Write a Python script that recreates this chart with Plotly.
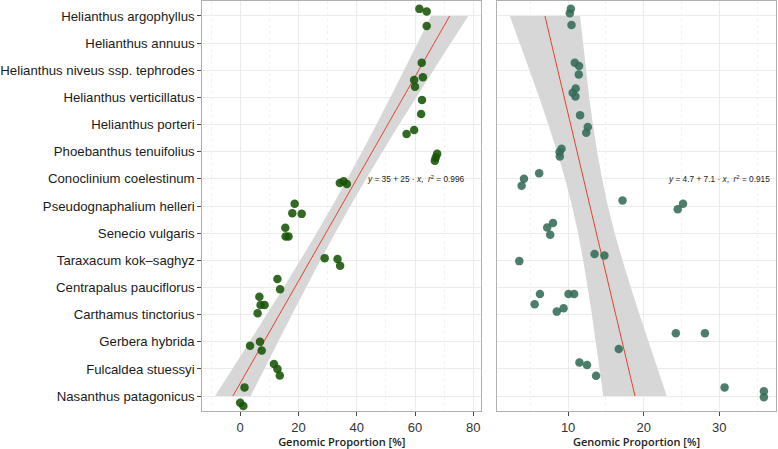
import plotly.graph_objects as go

categories = ["Helianthus argophyllus", "Helianthus annuus", "Helianthus niveus ssp. tephrodes",
              "Helianthus verticillatus", "Helianthus porteri", "Phoebanthus tenuifolius",
              "Conoclinium coelestinum", "Pseudognaphalium helleri", "Senecio vulgaris",
              "Taraxacum kok\u2013saghyz", "Centrapalus pauciflorus", "Carthamus tinctorius",
              "Gerbera hybrida", "Fulcaldea stuessyi", "Nasanthus patagonicus"]

# left panel points: species, genomic proportion, vertical jitter
left_species = ["Helianthus argophyllus"] * 3 + ["Helianthus niveus ssp. tephrodes"] * 3 + \
    ["Helianthus verticillatus"] * 2 + ["Helianthus porteri"] * 3 + ["Phoebanthus tenuifolius"] * 3 + \
    ["Conoclinium coelestinum"] * 3 + ["Pseudognaphalium helleri"] * 3 + ["Senecio vulgaris"] * 3 + \
    ["Taraxacum kok\u2013saghyz"] * 3 + ["Centrapalus pauciflorus"] * 3 + ["Carthamus tinctorius"] * 3 + \
    ["Gerbera hybrida"] * 3 + ["Fulcaldea stuessyi"] * 3 + ["Nasanthus patagonicus"] * 3
left_values = [61.5, 64.0, 64.0, 62.3, 62.7, 59.7, 60.0, 62.4, 62.1, 59.7, 57.1,
               67.6, 67.1, 66.8, 34.2, 35.5, 36.6, 18.7, 17.9, 21.1, 15.5, 15.6, 16.6,
               29.0, 33.4, 34.3, 12.8, 13.7, 6.6, 7.0, 8.4, 6.0, 3.4, 6.8, 7.4,
               11.6, 12.8, 13.6, 1.5, 0.0, 1.1]
left_jitter = [0.26, 0.16, -0.37, 0.28, -0.26, -0.36, 0.39, -0.10, 0.39, -0.20, -0.35,
               -0.08, -0.21, -0.33, -0.15, -0.09, -0.19, 0.08, -0.27, -0.29, 0.20, -0.12, -0.12,
               0.08, 0.05, -0.20, 0.31, -0.07, -0.34, 0.35, 0.35, 0.05, -0.15, 0.0, -0.32,
               0.18, 0.0, -0.24, 0.32, -0.25, -0.37]

right_species = ["Helianthus argophyllus"] * 3 + ["Helianthus niveus ssp. tephrodes"] * 3 + \
    ["Helianthus verticillatus"] * 3 + ["Helianthus porteri"] * 3 + ["Phoebanthus tenuifolius"] * 3 + \
    ["Conoclinium coelestinum"] * 3 + ["Pseudognaphalium helleri"] * 3 + ["Senecio vulgaris"] * 3 + \
    ["Taraxacum kok\u2013saghyz"] * 3 + ["Centrapalus pauciflorus"] * 3 + ["Carthamus tinctorius"] * 3 + \
    ["Gerbera hybrida"] * 3 + ["Fulcaldea stuessyi"] * 3 + ["Nasanthus patagonicus"] * 3
right_values = [10.36, 10.22, 10.45, 10.88, 11.45, 11.41, 11.0, 10.6, 10.97, 11.58, 12.6, 12.4,
                9.13, 8.87, 8.9, 4.16, 3.85, 6.17, 17.2, 25.2, 24.5, 8.0, 7.23, 7.63,
                3.54, 13.5, 14.8, 6.27, 10.05, 10.8, 5.57, 9.4, 8.5, 24.25, 28.1, 16.7,
                11.5, 12.5, 13.7, 30.7, 35.9, 35.9]
right_jitter = [0.26, 0.10, -0.33, 0.28, 0.16, -0.16, 0.33, 0.17, 0.03, 0.34, -0.09, -0.30,
                0.11, -0.01, -0.18, 0.0, -0.25, 0.21, 0.20, 0.08, -0.12, 0.37, 0.21, -0.06,
                -0.03, 0.23, 0.18, -0.24, -0.24, -0.24, 0.38, 0.23, 0.11, 0.31, 0.31, -0.27,
                0.24, 0.14, -0.25, 0.32, 0.18, -0.04]

# fitted lines (value at bottom category, value at top category) and band half-widths (bottom -> top)
left_fit = [-2.5, 71.9]
left_band = [6.1, 5.5, 4.9, 4.35, 3.85, 3.45, 3.2, 3.1, 3.2, 3.5, 3.9, 4.45, 5.05, 5.7, 6.4]
right_fit = [18.85, 6.93]
right_band = [4.2, 3.85, 3.5, 3.15, 2.85, 2.6, 2.42, 2.37, 2.45, 2.65, 2.95, 3.3, 3.75, 4.2, 4.65]

left_label = "<i>y</i> = 35 + 25 \u00b7 <i>x</i>,  <i>r</i><sup>2</sup> = 0.996"
right_label = "<i>y</i> = 4.7 + 7.1 \u00b7 <i>x</i>,  <i>r</i><sup>2</sup> = 0.915"

n = len(categories)
pos = {c: n - 1 - i for i, c in enumerate(categories)}  # top category highest


def build(fit, band, xa, ya):
    idx = list(range(n))
    line = [fit[0] + (fit[1] - fit[0]) * i / (n - 1) for i in idx]
    lo = [l - b for l, b in zip(line, band)]
    hi = [l + b for l, b in zip(line, band)]
    band_tr = go.Scatter(x=lo + hi[::-1], y=idx + idx[::-1], fill="toself", mode="none",
                         fillcolor="rgb(215,215,215)", xaxis=xa, yaxis=ya,
                         showlegend=False, hoverinfo="skip")
    line_tr = go.Scatter(x=line, y=idx, mode="lines", line=dict(color="#e8432a", width=1),
                         xaxis=xa, yaxis=ya, showlegend=False)
    return band_tr, line_tr


fig = go.Figure()
b, l = build(left_fit, left_band, "x", "y")
fig.add_trace(b)
fig.add_trace(l)
fig.add_trace(go.Scatter(x=left_values, y=[pos[s] + j for s, j in zip(left_species, left_jitter)],
                         mode="markers", marker=dict(size=8.5, color="rgb(22,84,4)", opacity=0.88),
                         xaxis="x", yaxis="y", showlegend=False))
b, l = build(right_fit, right_band, "x2", "y2")
fig.add_trace(b)
fig.add_trace(l)
fig.add_trace(go.Scatter(x=right_values, y=[pos[s] + j for s, j in zip(right_species, right_jitter)],
                         mode="markers", marker=dict(size=8.5, color="rgb(50,108,86)", opacity=0.88),
                         xaxis="x2", yaxis="y2", showlegend=False))

axfont = dict(family="Liberation Sans, Arial, sans-serif", size=13, color="#333333")
titlefont = dict(family="Open Sans, sans-serif", size=11, color="#222222", weight=600)
common_x = dict(showline=True, linecolor="#b0b0b0", linewidth=1, mirror=True,
                gridcolor="#ebebeb", gridwidth=1, zeroline=False, ticks="outside",
                ticklen=4, tickcolor="#444444", tickfont=axfont)
common_y = dict(showline=True, linecolor="#b0b0b0", linewidth=1, mirror=True,
                gridcolor="#ebebeb", zeroline=False, range=[-0.55, n - 0.45],
                tickvals=list(range(n)), fixedrange=True)

fig.update_layout(
    width=778, height=449, margin=dict(l=0, r=1, t=1, b=38),
    paper_bgcolor="white", plot_bgcolor="white",
    xaxis=dict(domain=[0.2584, 0.6183], range=[-13, 82.7], tickvals=[0, 20, 40, 60, 80],
               minor=dict(tickvals=[-10, 10, 30, 50, 70], showgrid=True, gridcolor="#f2f2f2",
                          griddash="dot"),
               title=dict(text="Genomic Proportion [%]", font=titlefont, standoff=5),
               **common_x),
    xaxis2=dict(domain=[0.6388, 0.9987], range=[0.6, 37.5], tickvals=[10, 20, 30],
                minor=dict(tickvals=[5, 15, 25, 35], showgrid=True, gridcolor="#f2f2f2",
                           griddash="dot"),
                title=dict(text="Genomic Proportion [%]", font=titlefont, standoff=5),
                **common_x),
    yaxis=dict(anchor="x", ticktext=[categories[n - 1 - i] for i in range(n)], ticks="outside",
               ticklen=4, tickcolor="#444444", tickfont=dict(family="Liberation Sans, Arial, sans-serif",
                                                            size=13.2, color="#1a1a1a"),
               **common_y),
    yaxis2=dict(anchor="x2", showticklabels=False, ticks="", **common_y),
    annotations=[
        dict(x=60.2, y=pos["Conoclinium coelestinum"], xref="x", yref="y", text=left_label,
             showarrow=False, font=dict(family="Liberation Sans, Arial, sans-serif", size=8.3,
                                        color="#222222")),
        dict(x=30.0, y=pos["Conoclinium coelestinum"], xref="x2", yref="y2", text=right_label,
             showarrow=False, font=dict(family="Liberation Sans, Arial, sans-serif", size=8.3,
                                        color="#222222")),
    ],
)

fig.write_html("out.html", post_script="document.body.style.margin='0';",
               config={"displayModeBar": False})
